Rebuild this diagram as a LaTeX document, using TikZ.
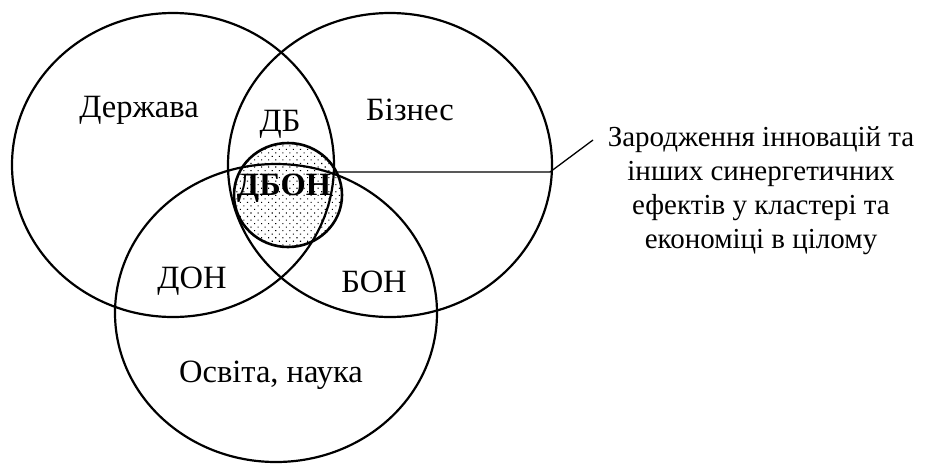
\documentclass[tikz,border=0pt]{standalone}
\usepackage{fontspec}
\setmainfont{Liberation Serif}
\usetikzlibrary{positioning,patterns.meta}

\begin{document}
\begin{tikzpicture}[x=1pt,y=-1pt,font=\fontsize{32.5}{36}\selectfont]
\useasboundingbox (0,0) rectangle (925,464);
\fill[pattern={Dots[distance=5pt,radius=0.75pt,angle=45]}] (288,195) ellipse (54 and 52);
\draw[black, line width=2.2pt] (173,165) ellipse (161 and 152);
\draw[black, line width=2.2pt] (390,165) ellipse (162 and 152);
\draw[black, line width=2.2pt] (276,313) ellipse (161 and 149);
\draw[black, line width=2.6pt] (288,195) ellipse (54 and 52);
\coordinate (core) at (337,172);
\coordinate (bend) at (550,172);
\coordinate (tip) at (593,140);
\draw[black, line width=1.3pt] (core) -- (bend) -- (tip);
\node (derzh) at (139,110) {Держава};
\node (biz) at (410,110) {Бізнес};
\node (db) at (280,124) {ДБ};
\node[font=\fontsize{32.5}{36}\selectfont\bfseries] (dbon) at (284,188) {ДБОН};
\node (don) at (192,281) {ДОН};
\node (bon) at (374,282) {БОН};
\node (osv) at (271,375) {Освіта, наука};
\node[align=center, font=\fontsize{29}{34}\selectfont] (effect) at (761,191) {Зародження інновацій та\\інших синергетичних\\ефектів у кластері та\\економіці в цілому};
\end{tikzpicture}
\end{document}
